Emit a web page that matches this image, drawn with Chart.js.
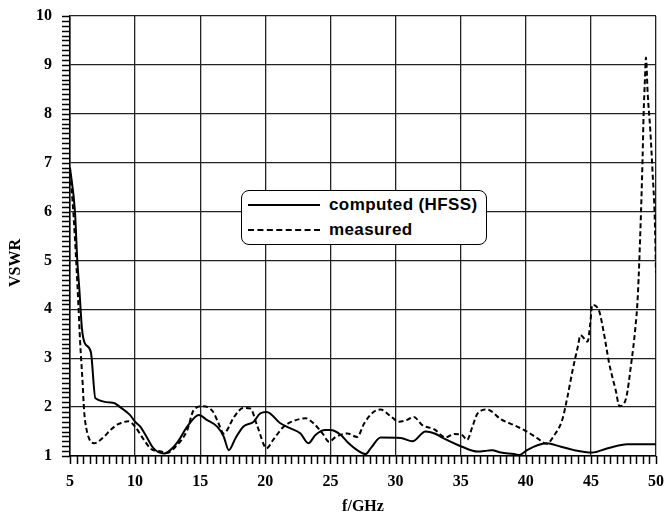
<!DOCTYPE html>
<html>
<head>
<meta charset="utf-8">
<script src="https://cdn.jsdelivr.net/npm/chart.js@4"></script>
<style>
    body { margin: 0; background: #fff; }
    .wrap { position: relative; width: 666px; height: 516px; }
    .ytitle {
        position: absolute; left: -15px; top: 254px; width: 60px; text-align: center;
        font: bold 16px "Liberation Serif", serif; transform: rotate(-90deg);
    }
    .legend {
        position: absolute; left: 241px; top: 190px; width: 244px; height: 53px;
        border: 1px solid #000; border-radius: 8px; background: #fff;
        font: bold 17px "Liberation Sans", Arial, sans-serif; letter-spacing: 0.4px;
    }
    .row { position: absolute; left: 6px; height: 22px; display: flex; align-items: center; }
    .sample { width: 72px; margin-right: 9px; }
</style>
</head>
<body>
<div class="wrap">
    <canvas id="myChart" width="666" height="516"></canvas>
    <div class="ytitle">VSWR</div>
    <div class="legend">
        <div class="row" style="top:3px"><span class="sample" style="border-top:2px solid #000"></span>computed (HFSS)</div>
        <div class="row" style="top:28px"><span class="sample" style="border-top:2px dashed #000"></span>measured</div>
    </div>
</div>
<script>
const freqComputed = [5.0, 5.38, 5.56, 5.72, 5.92, 6.15, 6.6, 6.95, 8.3, 8.85, 9.6, 10.0, 10.4, 10.8, 11.4, 12.2, 12.7, 13.3, 14.0, 14.9,
    15.5, 16.3, 16.8, 17.2, 17.7, 18.3, 19.1, 19.6, 20.1, 21.15, 21.9, 22.7, 23.3, 23.85, 24.6, 25.0, 25.8, 26.4, 27.05, 27.7,
    28.1, 28.85, 30.4, 31.3, 32.3, 33.0, 33.7, 35.1, 36.3, 37.05, 37.4, 38.1, 39.1, 39.5, 40.1, 40.9, 41.6, 42.7, 43.7, 45.1,
    46.3, 47.8, 50.0];
const vswrComputed = [6.9, 6.0, 5.0, 4.4, 3.6, 3.3, 3.13, 2.18, 2.09, 2.0, 1.84, 1.7, 1.6, 1.43, 1.16, 1.05, 1.12, 1.3, 1.6, 1.84,
    1.74, 1.6, 1.4, 1.12, 1.36, 1.6, 1.7, 1.87, 1.9, 1.67, 1.57, 1.46, 1.26, 1.43, 1.53, 1.53, 1.43, 1.26, 1.12, 1.04,
    1.16, 1.38, 1.37, 1.3, 1.5, 1.46, 1.36, 1.19, 1.09, 1.11, 1.12, 1.07, 1.04, 1.02, 1.12, 1.22, 1.26, 1.19, 1.12, 1.07,
    1.16, 1.24, 1.24];

const freqMeasured = [5.0, 5.2, 5.38, 5.5, 5.64, 5.77, 5.97, 6.08, 6.28, 6.85, 7.6, 8.1, 8.7, 9.5, 10.0, 10.6, 11.3, 11.9, 12.4, 13.1,
    14.0, 14.5, 15.25, 16.0, 16.4, 16.8, 17.6, 18.3, 18.85, 19.4, 20.1, 20.6, 21.4, 22.2, 23.1, 23.7, 24.4, 24.9, 25.4, 26.3,
    27.05, 27.6, 28.3, 28.85, 29.6, 30.25, 30.9, 31.4, 32.05, 32.95, 33.85, 34.5, 35.1, 35.5, 35.9, 36.3, 37.05, 38.1, 39.1, 40.1,
    40.9, 41.6, 42.2, 42.8, 43.2, 43.6, 44.0, 44.2, 44.75, 44.95, 45.1, 45.6, 46.0, 46.4, 46.9, 47.2, 47.7, 48.1, 48.4, 48.6,
    48.85, 48.97, 49.05, 49.15, 49.23, 49.36, 49.56, 49.74, 49.9, 50.0];
const vswrMeasured = [6.8, 6.2, 5.45, 4.87, 4.12, 3.37, 2.49, 1.94, 1.53, 1.26, 1.39, 1.53, 1.65, 1.71, 1.6, 1.36, 1.13, 1.1, 1.06, 1.19,
    1.53, 1.94, 2.02, 1.9, 1.67, 1.46, 1.8, 1.98, 1.97, 1.6, 1.16, 1.33, 1.6, 1.72, 1.77, 1.67, 1.46, 1.29, 1.39, 1.46,
    1.39, 1.67, 1.9, 1.95, 1.82, 1.7, 1.74, 1.8, 1.63, 1.55, 1.38, 1.45, 1.43, 1.33, 1.6, 1.87, 1.95, 1.75, 1.63, 1.5,
    1.36, 1.25, 1.43, 1.74, 2.21, 2.76, 3.24, 3.47, 3.34, 3.71, 4.09, 3.99, 3.51, 2.9, 2.35, 2.02, 2.18, 2.9, 3.58, 4.26,
    6.0, 7.1, 8.0, 8.7, 9.15, 8.42, 7.67, 6.78, 5.9, 4.75];

const xTicks = [5, 10, 15, 20, 25, 30, 35, 40, 45, 50];
const yTicks = [1, 2, 3, 4, 5, 6, 7, 8, 9, 10];

function isMajor(v, list) {
    return list.some((t) => Math.abs(t - v) < 1e-6);
}

// small tick marks outside the axes, at every tick the scales made
const minorTicks = {
    id: "minorTicks",
    afterDraw(chart) {
        const c = chart.ctx;
        const x = chart.scales.x;
        const y = chart.scales.y;
        const bottom = chart.chartArea.bottom;
        c.save();
        c.strokeStyle = "#000";
        c.lineWidth = 1.5;
        c.beginPath();
        x.ticks.forEach((t) => {
            const px = Math.round(x.getPixelForValue(t.value)) + 0.5;
            c.moveTo(px, bottom);
            c.lineTo(px, bottom + 8);
        });
        y.ticks.forEach((t) => {
            const py = Math.round(y.getPixelForValue(t.value)) + 0.5;
            c.moveTo(y.right - 8, py);
            c.lineTo(y.right, py);
        });
        c.stroke();
        c.restore();
    },
};

const tickFont = { family: "'Liberation Serif', serif", size: 16, weight: "bold" };

const ctx = document.getElementById("myChart").getContext("2d");
new Chart(ctx, {
    type: "line",
    data: {
        datasets: [
            {
                label: "computed (HFSS)",
                data: freqComputed.map((f, i) => ({ x: f, y: vswrComputed[i] })),
                borderColor: "#000",
                borderWidth: 2,
                pointRadius: 0,
                cubicInterpolationMode: "monotone",
            },
            {
                label: "measured",
                data: freqMeasured.map((f, i) => ({ x: f, y: vswrMeasured[i] })),
                borderColor: "#000",
                borderWidth: 2,
                borderDash: [5, 3],
                pointRadius: 0,
                cubicInterpolationMode: "monotone",
            },
        ],
    },
    options: {
        responsive: false,
        animation: false,
        layout: { padding: { top: 16, right: 10, left: 0, bottom: 0 } },
        plugins: { legend: { display: false }, tooltip: { enabled: false } },
        scales: {
            x: {
                type: "linear",
                min: 5,
                max: 50,
                afterFit: (scale) => {
                    scale.height = 60;
                    scale.paddingLeft = 0;
                    scale.paddingRight = 0;
                },
                ticks: {
                    stepSize: 0.5,
                    maxTicksLimit: 200,
                    autoSkip: false,
                    maxRotation: 0,
                    padding: 16,
                    color: "#000",
                    font: tickFont,
                    callback: (v) => (isMajor(v, xTicks) ? Math.round(v) : ""),
                },
                grid: {
                    color: (c) => (c.tick && isMajor(c.tick.value, xTicks) ? "#222" : "rgba(0,0,0,0)"),
                    drawTicks: false,
                    lineWidth: 1.3,
                },
                border: { color: "#000", width: 1.5 },
                title: {
                    display: true,
                    text: "f/GHz",
                    color: "#000",
                    font: tickFont,
                    padding: { top: 0, bottom: 0 },
                },
            },
            y: {
                min: 1,
                max: 10,
                afterFit: (scale) => {
                    scale.width = 70;
                    scale.paddingTop = 0;
                    scale.paddingBottom = 0;
                },
                ticks: {
                    stepSize: 0.1,
                    maxTicksLimit: 200,
                    autoSkip: false,
                    padding: 18,
                    color: "#000",
                    font: tickFont,
                    callback: (v) => (isMajor(v, yTicks) ? Math.round(v) : ""),
                },
                grid: {
                    color: (c) => (c.tick && isMajor(c.tick.value, yTicks) ? "#222" : "rgba(0,0,0,0)"),
                    drawTicks: false,
                    lineWidth: 1.3,
                },
                border: { color: "#000", width: 1.5 },
            },
        },
    },
    plugins: [minorTicks],
});
</script>
</body>
</html>
